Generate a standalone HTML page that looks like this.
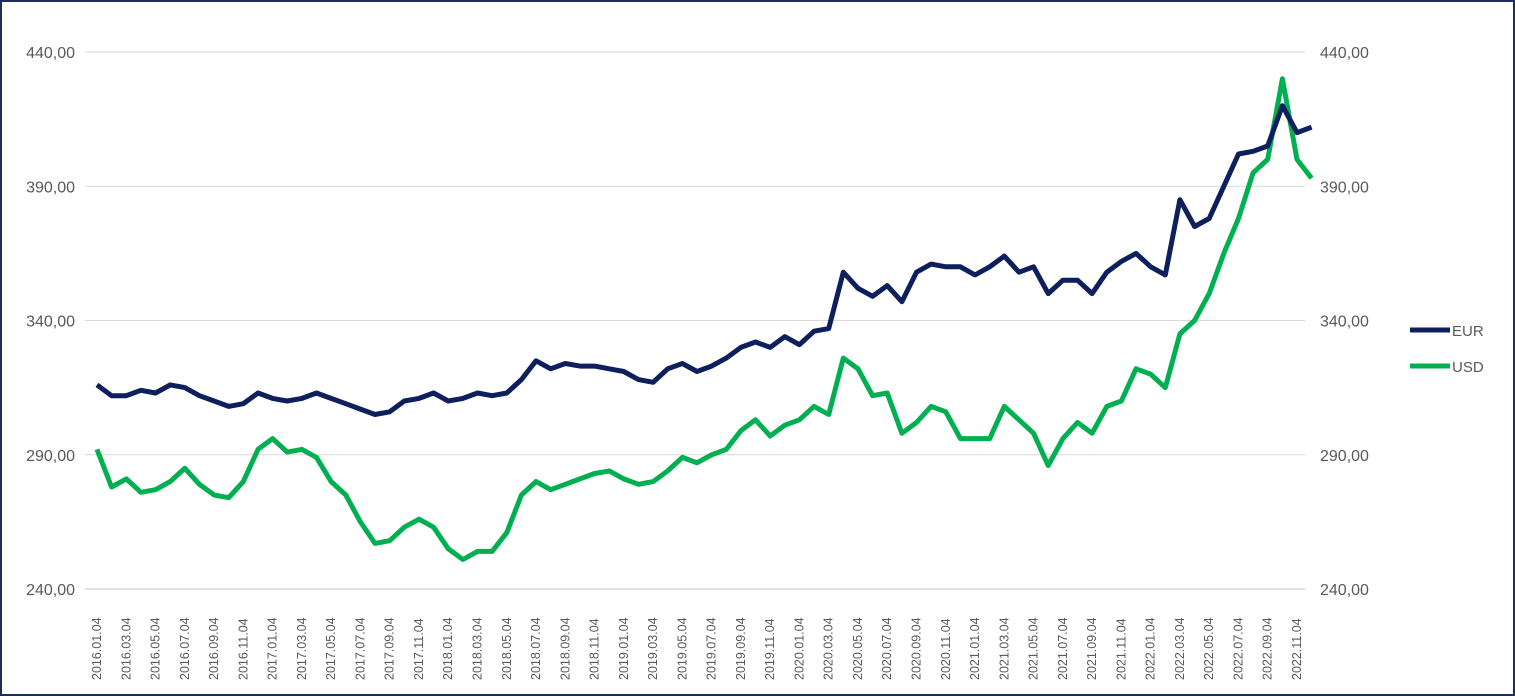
<!DOCTYPE html>
<html><head><meta charset="utf-8"><style>
html,body{margin:0;padding:0;background:#fff;}
svg{display:block;font-family:"Liberation Sans",sans-serif;}
</style></head><body>
<svg id="chart" width="1515" height="696">
<rect x="1" y="1" width="1513" height="694" fill="#fff" stroke="#1f2d5a" stroke-width="2"/>
<g id="grid"></g><g id="ylabels"></g><g id="xlabels"></g><g id="series"></g>
<g>
<line x1="1410" y1="330" x2="1450" y2="330" stroke="#0d1f5c" stroke-width="5"/>
<text x="1452" y="336" font-size="15" fill="#595959">EUR</text>
<line x1="1410" y1="366" x2="1450" y2="366" stroke="#00b050" stroke-width="5"/>
<text x="1452" y="372" font-size="15" fill="#595959">USD</text>
</g>
</svg>
<script>
const yTicks=[240,290,340,390,440];
const eurValues=[316,312,312,314,313,316,315,312,310,308,309,313,311,310,311,313,311,309,307,305,306,310,311,313,310,311,313,312,313,318,325,322,324,323,323,322,321,318,317,322,324,321,323,326,330,332,330,334,331,336,337,358,352,349,353,347,358,361,360,360,357,360,364,358,360,350,355,355,350,358,362,365,360,357,385,375,378,390,402,403,405,420,410,412];
const usdValues=[292,278,281,276,277,280,285,279,275,274,280,292,296,291,292,289,280,275,265,257,258,263,266,263,255,251,254,254,261,275,280,277,279,281,283,284,281,279,280,284,289,287,290,292,299,303,297,301,303,308,305,326,322,312,313,298,302,308,306,296,296,296,308,303,298,286,296,302,298,308,310,322,320,315,335,340,350,365,378,395,400,430,400,393];
const xLabels=[];
for(let y=2016;y<=2022;y++)for(let m=1;m<=11;m+=2)xLabels.push(y+"."+String(m).padStart(2,"0")+".04");
const NS="http://www.w3.org/2000/svg";
const yScale=v=>589-(v-240)*(537/200);
const x0=97,monthStep=(1297-97)/82;
const xScale=i=>x0+i*monthStep;
const grid=document.getElementById('grid'),yl=document.getElementById('ylabels'),xl=document.getElementById('xlabels'),ser=document.getElementById('series');
yTicks.forEach(t=>{
 const y=yScale(t);
 const l=document.createElementNS(NS,'line');
 l.setAttribute('x1',85);l.setAttribute('x2',1305);l.setAttribute('y1',y);l.setAttribute('y2',y);
 l.setAttribute('stroke',t===240?'#bfbfbf':'#d9d9d9');l.setAttribute('stroke-width',1);
 
 
 grid.appendChild(l);
 const lab=t.toFixed(2).replace('.',',');
 const a=document.createElementNS(NS,'text');
 a.setAttribute('x',75);a.setAttribute('y',y+6);a.setAttribute('text-anchor','end');a.setAttribute('font-size','16');a.setAttribute('fill','#595959');
 a.textContent=lab;
 
 
 yl.appendChild(a);
 const b=document.createElementNS(NS,'text');
 b.setAttribute('x',1320);b.setAttribute('y',y+6);b.setAttribute('font-size','16');b.setAttribute('fill','#595959');
 b.textContent=lab;
 
 
 yl.appendChild(b);
});
xLabels.forEach((s,i)=>{
 const x=xScale(i*2)+4;
 const t=document.createElementNS(NS,'text');
 t.setAttribute('transform','translate('+x+',680) rotate(-90)');
 t.setAttribute('font-size','12.5');t.setAttribute('fill','#595959');
 t.textContent=s;
 
 
 xl.appendChild(t);
});
function drawLine(vals,color,name){
 const p=document.createElementNS(NS,'polyline');
 p.setAttribute('points',vals.map((v,i)=>xScale(i).toFixed(1)+','+yScale(v).toFixed(1)).join(' '));
 p.setAttribute('fill','none');p.setAttribute('stroke',color);p.setAttribute('stroke-width',5);p.setAttribute('stroke-linejoin','round');
 
 
 ser.appendChild(p);
}
drawLine(usdValues,'#00b050','usd-line');
drawLine(eurValues,'#0d1f5c','eur-line');
</script>
</body></html>
